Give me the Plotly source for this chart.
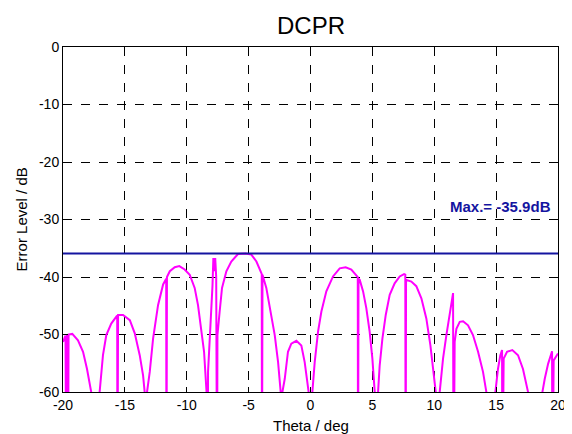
import plotly.graph_objects as go

# DCPR error level vs theta; -80 marks nulls below the axis floor
theta = [
    -20.0, -19.8, -19.73, -19.68, -19.6, -19.55, -19.25, -18.79, -18.38, -18.06, -17.72, -17.6,
    -17.1, -17.04, -16.77, -16.5, -16.1, -15.69, -15.62, -15.6, -15.55, -15.15, -14.6, -14.2, -13.8, -13.53, -13.4, -13.35,
    -13.25, -13.21, -12.99, -12.72, -12.32, -11.91, -11.66, -11.64, -11.6, -11.37, -10.97, -10.6, -10.17, -9.76, -9.36,
    -9.09, -8.82, -8.6, -8.5, -8.4, -8.37,
    -8.3, -8.28, -8.06, -7.92, -7.85, -7.76, -7.7, -7.62, -7.55,
    -7.52, -7.34, -7.15, -6.8, -6.4, -5.86, -5.25, -4.78, -4.37, -3.97, -3.94, -3.92, -3.88, -3.57, -3.22, -2.89, -2.62, -2.41, -2.38,
    -2.3, -2.27, -2.08, -1.82, -1.55, -1.14, -0.74, -0.47, -0.25, -0.15, -0.12,
    0.12, 0.15, 0.34, 0.61, 0.88, 1.28, 1.82, 2.36, 2.84, 3.3, 3.71, 3.82, 3.84, 3.88, 3.98, 4.25, 4.51, 4.78, 5.0, 5.19, 5.22,
    5.43, 5.46, 5.59, 5.81, 6.08, 6.4, 6.8, 7.21, 7.56, 7.66, 7.69, 7.72, 8.15, 8.55, 8.96, 9.36, 9.69, 9.95, 10.12, 10.15,
    10.41, 10.44, 10.71, 10.98, 11.25, 11.52, 11.56, 11.65, 11.79, 12.06, 12.33, 12.73, 13.13, 13.54, 13.94, 14.21, 14.24,
    14.91, 14.94, 15.15, 15.34, 15.48, 15.5, 15.61, 15.88, 16.31, 16.77, 17.17, 17.58, 17.61,
    18.71, 18.74, 18.93, 19.2, 19.52, 19.55, 19.65, 20.0,
]
error_db = [
    -51.3, -50.2, -80, -50.0, -80, -50.0, -49.9, -51.0, -53.0, -56.0, -60.0, -80,
    -80, -60.0, -53.6, -50.1, -48.1, -46.9, -46.7, -80, -46.6, -46.6, -47.5, -49.8, -53.6, -57.1, -60.0, -80,
    -80, -60.0, -56.5, -50.7, -44.9, -41.3, -40.3, -80, -40.0, -39.0, -38.3, -38.1, -38.7, -39.6, -41.9,
    -44.9, -49.0, -53.0, -56.5, -60.0, -80,
    -80, -56.5, -48.0, -41.5, -36.7, -39.0, -36.7, -40.0, -80,
    -50.1, -46.0, -41.9, -39.0, -37.3, -36.0, -35.9, -36.1, -37.3, -39.3, -39.5, -80, -39.6, -41.9, -46.0, -50.1, -54.8, -60.0, -80,
    -80, -60.0, -57.7, -53.0, -51.6, -51.1, -51.9, -54.8, -58.9, -60.0, -80,
    -80, -60.0, -54.8, -49.5, -46.0, -42.5, -39.9, -38.5, -38.3, -38.7, -39.7, -40.0, -80, -40.3, -40.5, -42.5, -45.4, -49.5, -54.2, -60.0, -80,
    -80, -60.0, -55.4, -50.7, -46.6, -43.1, -41.1, -39.9, -39.5, -39.6, -80, -40.5, -40.8, -41.6, -43.7, -47.2, -51.9, -56.5, -60.0, -80,
    -80, -60.0, -54.2, -50.1, -46.0, -42.8, -80, -51.3, -49.0, -47.8, -47.7, -48.4, -50.1, -53.0, -56.5, -60.0, -80,
    -80, -60.0, -56.0, -53.6, -52.7, -80, -54.2, -53.0, -52.7, -53.6, -56.0, -60.0, -80,
    -80, -60.0, -57.7, -55.1, -52.9, -80, -54.5, -53.3,
]

max_level = -35.9
max_label = "Max.= -35.9dB"
x_ticks = [-20, -15, -10, -5, 0, 5, 10, 15, 20]
y_ticks = [-60, -50, -40, -30, -20, -10, 0]
title_text = "DCPR"
x_title = "Theta / deg"
y_title = "Error Level / dB"

FONT = "Liberation Sans, Arial, sans-serif"
BLUE = "#1414A0"

fig = go.Figure()
fig.add_trace(go.Scatter(x=theta, y=error_db, mode="lines",
                         line=dict(color="#FF00FF", width=2), hoverinfo="skip"))
fig.add_trace(go.Scatter(x=[x_ticks[0], x_ticks[-1]], y=[max_level, max_level], mode="lines",
                         line=dict(color=BLUE, width=2), hoverinfo="skip"))

fig.add_annotation(x=19.6, y=-27.8, xref="x", yref="y", text="<b>" + max_label + "</b>",
                   showarrow=False, xanchor="right", yanchor="middle",
                   font=dict(family=FONT, size=15, color=BLUE))
# Axis titles and chart title placed in paper coordinates
fig.add_annotation(x=0.5, y=-0.096, xref="paper", yref="paper", text=x_title,
                   showarrow=False, xanchor="center", yanchor="middle",
                   font=dict(family=FONT, size=15, color="black"))
fig.add_annotation(x=-0.083, y=0.5, xref="paper", yref="paper", text=y_title, textangle=-90,
                   showarrow=False, xanchor="center", yanchor="middle",
                   font=dict(family=FONT, size=15, color="black"))
fig.add_annotation(x=0.5, y=1.062, xref="paper", yref="paper", text=title_text,
                   showarrow=False, xanchor="center", yanchor="middle",
                   font=dict(family=FONT, size=24, color="black"))

axis_common = dict(showline=True, linecolor="black", linewidth=1, mirror="ticks",
                   ticks="inside", ticklen=5, tickcolor="black", automargin=False,
                   showgrid=True, gridcolor="black", gridwidth=1, griddash="dash",
                   zeroline=False, tickfont=dict(family=FONT, size=14, color="black"))

# The page body adds an 8px offset, so the figure is 8px smaller and its left/top margins reduced by 8px
fig.update_layout(
    width=564, height=426,
    margin=dict(l=55, r=14, t=39, b=42, autoexpand=False),
    paper_bgcolor="white", plot_bgcolor="white",
    showlegend=False,
    xaxis=dict(range=[-20, 20], tickvals=x_ticks, ticktext=[str(v) for v in x_ticks], **axis_common),
    yaxis=dict(range=[-60, 0], tickvals=y_ticks, ticktext=[str(v) for v in y_ticks], **axis_common),
)

fig.write_html("out.html")
